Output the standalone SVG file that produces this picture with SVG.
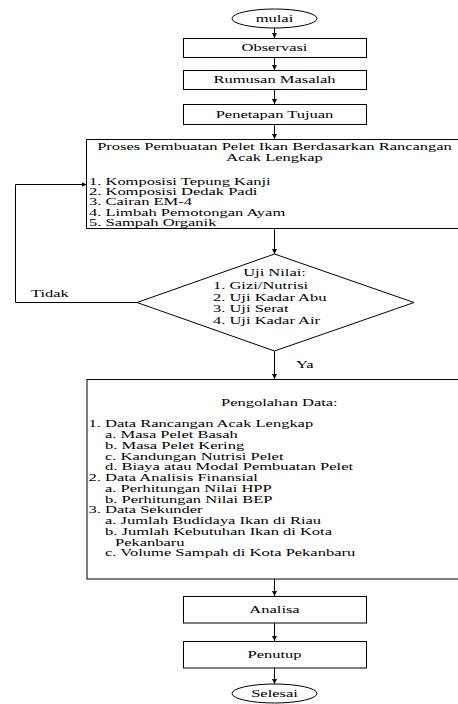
<svg xmlns="http://www.w3.org/2000/svg" width="458" height="704" viewBox="0 0 458 704">
<style>
text{font-family:"Liberation Serif","Times New Roman",serif;font-size:10.5px;fill:#000}
.s{transform:scale(1.5714,1)}
.c{text-anchor:middle}
.b{fill:#fff;stroke:#000;stroke-width:1}
.l{fill:none;stroke:#000;stroke-width:1}
</style>
<defs>
<marker id="ah" markerWidth="6" markerHeight="6" refX="5" refY="3" orient="auto" markerUnits="userSpaceOnUse">
<path d="M0,0.5 L5,3 L0,5.5 Z" fill="#000"/>
</marker>
</defs>
<rect width="458" height="704" fill="#fff"/>
<g id="connectors" class="l">
<line x1="274.5" y1="28" x2="274.5" y2="38" marker-end="url(#ah)"/>
<line x1="274.5" y1="57" x2="274.5" y2="70" marker-end="url(#ah)"/>
<line x1="274.5" y1="89" x2="274.5" y2="104" marker-end="url(#ah)"/>
<line x1="274.5" y1="124" x2="274.5" y2="139" marker-end="url(#ah)"/>
<line x1="274.5" y1="228.5" x2="274.5" y2="254" marker-end="url(#ah)"/>
<polyline points="137,302.5 15.5,302.5 15.5,184.5 86.5,184.5" marker-end="url(#ah)"/>
<line x1="274.5" y1="351" x2="274.5" y2="379" marker-end="url(#ah)"/>
<line x1="274.5" y1="579" x2="274.5" y2="596" marker-end="url(#ah)"/>
<line x1="274.5" y1="623" x2="274.5" y2="641" marker-end="url(#ah)"/>
<line x1="274.5" y1="668" x2="274.5" y2="684" marker-end="url(#ah)"/>
</g>
<g id="mulai">
<ellipse class="b" cx="274.5" cy="18.5" rx="42.5" ry="9.5"/>
<text class="s c" x="174.7" y="22">mulai</text>
</g>
<g id="observasi">
<rect class="b" x="183.5" y="38.5" width="183" height="19"/>
<text class="s c" x="174.7" y="51.5">Observasi</text>
</g>
<g id="rumusan">
<rect class="b" x="183.5" y="70.5" width="183" height="19"/>
<text class="s c" x="174.7" y="83.5">Rumusan Masalah</text>
</g>
<g id="penetapan">
<rect class="b" x="183.5" y="104.5" width="183" height="20"/>
<text class="s c" x="174.7" y="118">Penetapan Tujuan</text>
</g>
<g id="proses">
<rect class="b" x="86.5" y="139.5" width="380" height="89"/>
<text class="s c" x="174.7" y="150.5">Proses Pembuatan Pelet Ikan Berdasarkan Rancangan</text>
<text class="s c" x="174.7" y="161.5">Acak Lengkap</text>
<text class="s" x="56.64" y="185">1. Komposisi Tepung Kanji</text>
<text class="s" x="56.64" y="195.3">2. Komposisi Dedak Padi</text>
<text class="s" x="56.64" y="205.5">3. Cairan EM-4</text>
<text class="s" x="56.64" y="215.8">4. Limbah Pemotongan Ayam</text>
<text class="s" x="56.64" y="226">5. Sampah Organik</text>
</g>
<g id="uji">
<polygon class="b" points="274.5,254 414,302.5 274.5,351 137,302.5"/>
<text class="s c" x="174.7" y="276.5">Uji Nilai:</text>
<text class="s" x="135.55" y="289">1. Gizi/Nutrisi</text>
<text class="s" x="135.55" y="300.7">2. Uji Kadar Abu</text>
<text class="s" x="135.55" y="312.4">3. Uji Serat</text>
<text class="s" x="135.55" y="324">4. Uji Kadar Air</text>
</g>
<g id="labels">
<text class="s" x="19.73" y="297">Tidak</text>
<text class="s" x="188.37" y="368.5">Ya</text>
</g>
<g id="pengolahan">
<rect class="b" x="87" y="379.5" width="380" height="199.5"/>
<text class="s" x="140.64" y="406.5">Pengolahan Data:</text>
<text class="s" x="56.32" y="427.5">1. Data Rancangan Acak Lengkap</text>
<text class="s" x="66.82" y="438.25">a. Masa Pelet Basah</text>
<text class="s" x="66.82" y="449">b. Masa Pelet Kering</text>
<text class="s" x="66.82" y="459.75">c. Kandungan Nutrisi Pelet</text>
<text class="s" x="66.82" y="470.5">d. Biaya atau Modal Pembuatan Pelet</text>
<text class="s" x="56.32" y="481.25">2. Data Analisis Finansial</text>
<text class="s" x="66.82" y="492">a. Perhitungan Nilai HPP</text>
<text class="s" x="66.82" y="502.75">b. Perhitungan Nilai BEP</text>
<text class="s" x="56.32" y="513.5">3. Data Sekunder</text>
<text class="s" x="66.82" y="524.25">a. Jumlah Budidaya Ikan di Riau</text>
<text class="s" x="66.82" y="535">b. Jumlah Kebutuhan Ikan di Kota</text>
<text class="s" x="73.18" y="545.75">Pekanbaru</text>
<text class="s" x="66.82" y="556.5">c. Volume Sampah di Kota Pekanbaru</text>
</g>
<g id="analisa">
<rect class="b" x="183.5" y="596.5" width="183" height="26.5"/>
<text class="s c" x="174.7" y="613.5">Analisa</text>
</g>
<g id="penutup">
<rect class="b" x="183.5" y="641.5" width="183" height="26.5"/>
<text class="s c" x="174.7" y="658">Penutup</text>
</g>
<g id="selesai">
<ellipse class="b" cx="274.5" cy="693.5" rx="42.5" ry="9.5"/>
<text class="s c" x="174.7" y="697.5">Selesai</text>
</g>
</svg>
